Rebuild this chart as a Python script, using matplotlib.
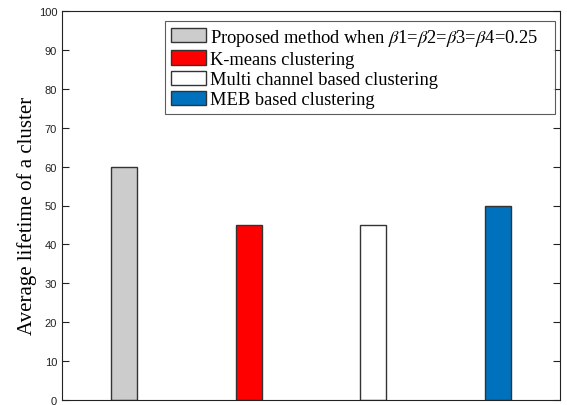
import matplotlib.pyplot as plt
from matplotlib.patches import Patch

methods = ["Proposed method when $\\beta$1=$\\beta$2=$\\beta$3=$\\beta$4=0.25",
           "K-means clustering",
           "Multi channel based clustering",
           "MEB based clustering"]
lifetime = [60, 45, 45, 50]
colors = ["#cccccc", "#ff0000", "#ffffff", "#0072bd"]
positions = [1, 2, 3, 4]
yticks = list(range(0, 101, 10))

plt.rcParams["mathtext.fontset"] = "stix"

fig = plt.figure(figsize=(5.67, 4.06), dpi=100)
ax = fig.add_axes([62 / 567, 5 / 406, 498 / 567, 389 / 406])

for p, v, c in zip(positions, lifetime, colors):
    ax.bar(p, v, width=0.205, color=c, edgecolor="#333333", linewidth=1.0)

ax.set_xlim(0.5, 4.5)
ax.set_ylim(0, 100)
ax.set_xticks([])
ax.set_yticks(yticks)
ax.tick_params(axis="y", direction="in", length=5, right=True, width=0.8,
               labelsize=8, colors="#222222")
for lbl in ax.get_yticklabels():
    lbl.set_family("Liberation Sans")
for s in ax.spines.values():
    s.set_color("#222222")
    s.set_linewidth(0.8)

ax.set_ylabel("Average lifetime of a cluster", family="Liberation Serif",
              fontsize=15)
ax.yaxis.set_label_coords(-0.051, 0.476)

handles = [Patch(facecolor=c, edgecolor="#333333", linewidth=1.0) for c in colors]
leg = ax.legend(handles, methods, loc="upper left",
                bbox_to_anchor=(0.207, 0.0, 0.783, 0.974), mode="expand",
                prop={"family": "Liberation Serif", "size": 13.3},
                frameon=True, fancybox=False, edgecolor="#333333",
                handlelength=1.9, handleheight=0.8, handletextpad=0.25,
                labelspacing=0.15, borderpad=0.3, borderaxespad=0.0)
leg.get_frame().set_linewidth(0.8)

fig.savefig("out.png", dpi=100)
